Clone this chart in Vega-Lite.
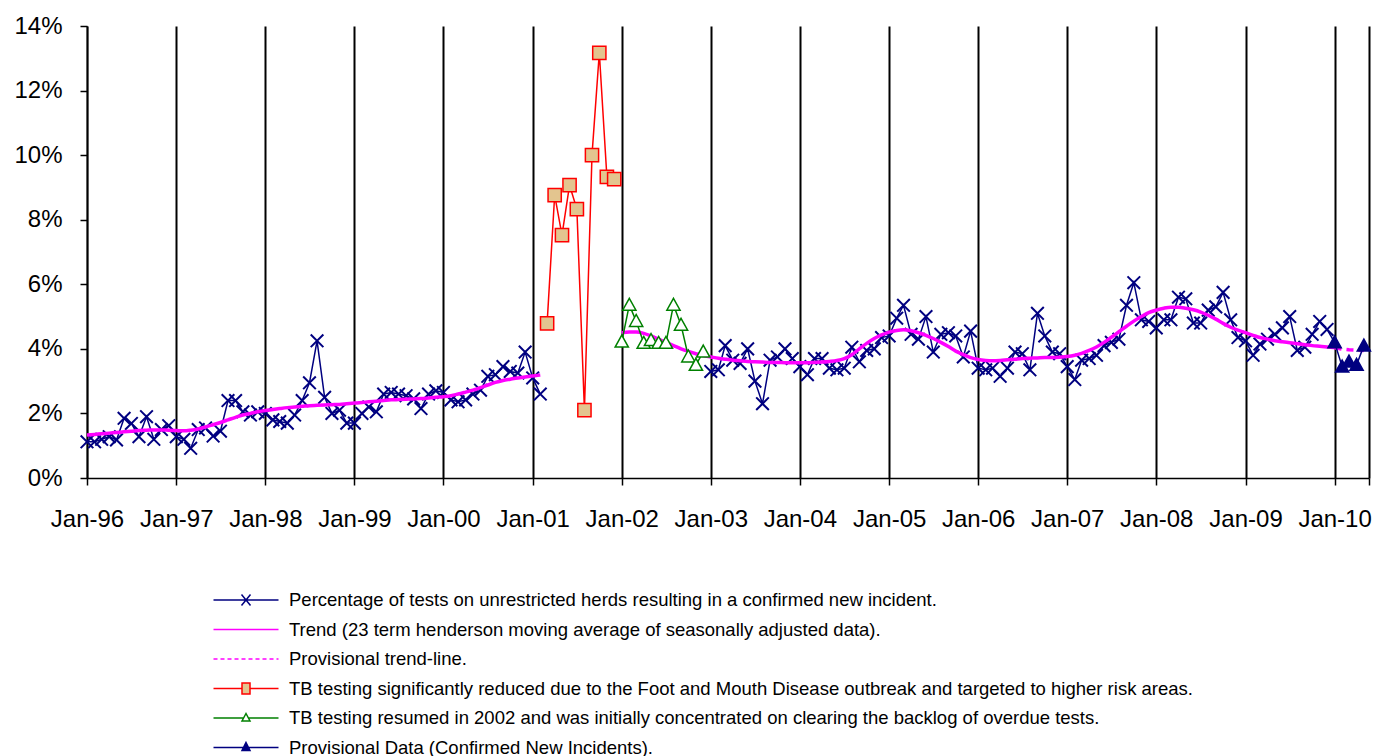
{
"$schema": "https://vega.github.io/schema/vega-lite/v6.json",
"autosize": {"type": "none"},
"width": 1282, "height": 452,
"padding": {"left": 87, "top": 26, "right": 12, "bottom": 278},
"background": "white",
"datasets": {
"main": [
{"d":"1996-01-01","s":"o1","v":1.12},{"d":"1996-02-01","s":"o1","v":1.12},{"d":"1996-03-01","s":"o1","v":1.2},{"d":"1996-04-01","s":"o1","v":1.28},{"d":"1996-05-01","s":"o1","v":1.18},{"d":"1996-06-01","s":"o1","v":1.85},{"d":"1996-07-01","s":"o1","v":1.69},{"d":"1996-08-01","s":"o1","v":1.28},{"d":"1996-09-01","s":"o1","v":1.9},{"d":"1996-10-01","s":"o1","v":1.2},{"d":"1996-11-01","s":"o1","v":1.5},{"d":"1996-12-01","s":"o1","v":1.62},
{"d":"1997-01-01","s":"o1","v":1.28},{"d":"1997-02-01","s":"o1","v":1.2},{"d":"1997-03-01","s":"o1","v":0.92},{"d":"1997-04-01","s":"o1","v":1.5},{"d":"1997-05-01","s":"o1","v":1.55},{"d":"1997-06-01","s":"o1","v":1.3},{"d":"1997-07-01","s":"o1","v":1.45},{"d":"1997-08-01","s":"o1","v":2.4},{"d":"1997-09-01","s":"o1","v":2.4},{"d":"1997-10-01","s":"o1","v":2.05},{"d":"1997-11-01","s":"o1","v":1.95},{"d":"1997-12-01","s":"o1","v":2.05},
{"d":"1998-01-01","s":"o1","v":2.0},{"d":"1998-02-01","s":"o1","v":1.8},{"d":"1998-03-01","s":"o1","v":1.75},{"d":"1998-04-01","s":"o1","v":1.7},{"d":"1998-05-01","s":"o1","v":1.95},{"d":"1998-06-01","s":"o1","v":2.4},{"d":"1998-07-01","s":"o1","v":2.95},{"d":"1998-08-01","s":"o1","v":4.25},{"d":"1998-09-01","s":"o1","v":2.5},{"d":"1998-10-01","s":"o1","v":2.0},{"d":"1998-11-01","s":"o1","v":2.1},{"d":"1998-12-01","s":"o1","v":1.7},
{"d":"1999-01-01","s":"o1","v":1.7},{"d":"1999-02-01","s":"o1","v":2.0},{"d":"1999-03-01","s":"o1","v":2.2},{"d":"1999-04-01","s":"o1","v":2.05},{"d":"1999-05-01","s":"o1","v":2.6},{"d":"1999-06-01","s":"o1","v":2.65},{"d":"1999-07-01","s":"o1","v":2.6},{"d":"1999-08-01","s":"o1","v":2.55},{"d":"1999-09-01","s":"o1","v":2.45},{"d":"1999-10-01","s":"o1","v":2.15},{"d":"1999-11-01","s":"o1","v":2.6},{"d":"1999-12-01","s":"o1","v":2.7},
{"d":"2000-01-01","s":"o1","v":2.65},{"d":"2000-02-01","s":"o1","v":2.42},{"d":"2000-03-01","s":"o1","v":2.36},{"d":"2000-04-01","s":"o1","v":2.42},{"d":"2000-05-01","s":"o1","v":2.6},{"d":"2000-06-01","s":"o1","v":2.72},{"d":"2000-07-01","s":"o1","v":3.15},{"d":"2000-08-01","s":"o1","v":3.2},{"d":"2000-09-01","s":"o1","v":3.45},{"d":"2000-10-01","s":"o1","v":3.3},{"d":"2000-11-01","s":"o1","v":3.25},{"d":"2000-12-01","s":"o1","v":3.9},
{"d":"2001-01-01","s":"o1","v":3.1},{"d":"2001-02-01","s":"o1","v":2.6},
{"d":"2001-03-01","s":"f","v":4.79},{"d":"2001-04-01","s":"f","v":8.76},{"d":"2001-05-01","s":"f","v":7.52},{"d":"2001-06-01","s":"f","v":9.07},{"d":"2001-07-01","s":"f","v":8.33},{"d":"2001-08-01","s":"f","v":2.1},{"d":"2001-09-01","s":"f","v":10.0},{"d":"2001-10-01","s":"f","v":13.17},{"d":"2001-11-01","s":"f","v":9.33},{"d":"2001-12-01","s":"f","v":9.26},
{"d":"2002-01-01","s":"r","v":4.22},{"d":"2002-02-01","s":"r","v":5.36},{"d":"2002-03-01","s":"r","v":4.86},{"d":"2002-04-01","s":"r","v":4.18},{"d":"2002-05-01","s":"r","v":4.27},{"d":"2002-06-01","s":"r","v":4.18},{"d":"2002-07-01","s":"r","v":4.18},{"d":"2002-08-01","s":"r","v":5.36},{"d":"2002-09-01","s":"r","v":4.74},{"d":"2002-10-01","s":"r","v":3.76},{"d":"2002-11-01","s":"r","v":3.5},{"d":"2002-12-01","s":"r","v":3.91},
{"d":"2003-01-01","s":"o2","v":3.3},{"d":"2003-02-01","s":"o2","v":3.35},{"d":"2003-03-01","s":"o2","v":4.1},{"d":"2003-04-01","s":"o2","v":3.65},{"d":"2003-05-01","s":"o2","v":3.55},{"d":"2003-06-01","s":"o2","v":4.0},{"d":"2003-07-01","s":"o2","v":3.0},{"d":"2003-08-01","s":"o2","v":2.3},{"d":"2003-09-01","s":"o2","v":3.65},{"d":"2003-10-01","s":"o2","v":3.75},{"d":"2003-11-01","s":"o2","v":4.0},{"d":"2003-12-01","s":"o2","v":3.7},
{"d":"2004-01-01","s":"o2","v":3.45},{"d":"2004-02-01","s":"o2","v":3.2},{"d":"2004-03-01","s":"o2","v":3.7},{"d":"2004-04-01","s":"o2","v":3.7},{"d":"2004-05-01","s":"o2","v":3.4},{"d":"2004-06-01","s":"o2","v":3.35},{"d":"2004-07-01","s":"o2","v":3.4},{"d":"2004-08-01","s":"o2","v":4.05},{"d":"2004-09-01","s":"o2","v":3.6},{"d":"2004-10-01","s":"o2","v":3.95},{"d":"2004-11-01","s":"o2","v":4.0},{"d":"2004-12-01","s":"o2","v":4.35},
{"d":"2005-01-01","s":"o2","v":4.4},{"d":"2005-02-01","s":"o2","v":4.95},{"d":"2005-03-01","s":"o2","v":5.35},{"d":"2005-04-01","s":"o2","v":4.45},{"d":"2005-05-01","s":"o2","v":4.3},{"d":"2005-06-01","s":"o2","v":5.0},{"d":"2005-07-01","s":"o2","v":3.9},{"d":"2005-08-01","s":"o2","v":4.45},{"d":"2005-09-01","s":"o2","v":4.5},{"d":"2005-10-01","s":"o2","v":4.4},{"d":"2005-11-01","s":"o2","v":3.75},{"d":"2005-12-01","s":"o2","v":4.55},
{"d":"2006-01-01","s":"o2","v":3.4},{"d":"2006-02-01","s":"o2","v":3.35},{"d":"2006-03-01","s":"o2","v":3.4},{"d":"2006-04-01","s":"o2","v":3.15},{"d":"2006-05-01","s":"o2","v":3.4},{"d":"2006-06-01","s":"o2","v":3.9},{"d":"2006-07-01","s":"o2","v":3.85},{"d":"2006-08-01","s":"o2","v":3.35},{"d":"2006-09-01","s":"o2","v":5.1},{"d":"2006-10-01","s":"o2","v":4.4},{"d":"2006-11-01","s":"o2","v":3.9},{"d":"2006-12-01","s":"o2","v":3.85},
{"d":"2007-01-01","s":"o2","v":3.45},{"d":"2007-02-01","s":"o2","v":3.05},{"d":"2007-03-01","s":"o2","v":3.65},{"d":"2007-04-01","s":"o2","v":3.7},{"d":"2007-05-01","s":"o2","v":3.8},{"d":"2007-06-01","s":"o2","v":4.1},{"d":"2007-07-01","s":"o2","v":4.2},{"d":"2007-08-01","s":"o2","v":4.3},{"d":"2007-09-01","s":"o2","v":5.35},{"d":"2007-10-01","s":"o2","v":6.05},{"d":"2007-11-01","s":"o2","v":4.9},{"d":"2007-12-01","s":"o2","v":4.85},
{"d":"2008-01-01","s":"o2","v":4.65},{"d":"2008-02-01","s":"o2","v":4.9},{"d":"2008-03-01","s":"o2","v":4.9},{"d":"2008-04-01","s":"o2","v":5.6},{"d":"2008-05-01","s":"o2","v":5.55},{"d":"2008-06-01","s":"o2","v":4.8},{"d":"2008-07-01","s":"o2","v":4.8},{"d":"2008-08-01","s":"o2","v":5.2},{"d":"2008-09-01","s":"o2","v":5.3},{"d":"2008-10-01","s":"o2","v":5.75},{"d":"2008-11-01","s":"o2","v":4.9},{"d":"2008-12-01","s":"o2","v":4.35},
{"d":"2009-01-01","s":"o2","v":4.25},{"d":"2009-02-01","s":"o2","v":3.8},{"d":"2009-03-01","s":"o2","v":4.15},{"d":"2009-04-01","s":"o2","v":4.3},{"d":"2009-05-01","s":"o2","v":4.45},{"d":"2009-06-01","s":"o2","v":4.65},{"d":"2009-07-01","s":"o2","v":5.0},{"d":"2009-08-01","s":"o2","v":3.95},{"d":"2009-09-01","s":"o2","v":4.05},{"d":"2009-10-01","s":"o2","v":4.45},{"d":"2009-11-01","s":"o2","v":4.85},{"d":"2009-12-01","s":"o2","v":4.6},
{"d":"2009-12-01","s":"lk","v":4.6},{"d":"2010-01-01","s":"lk","v":4.2},
{"d":"2010-01-01","s":"p","v":4.2},{"d":"2010-02-01","s":"p","v":3.45},{"d":"2010-03-01","s":"p","v":3.6},{"d":"2010-04-01","s":"p","v":3.5},{"d":"2010-05-01","s":"p","v":4.1},
{"d":"1996-01-01","s":"t1","v":1.33},{"d":"1996-02-01","s":"t1","v":1.35},{"d":"1996-03-01","s":"t1","v":1.37},{"d":"1996-04-01","s":"t1","v":1.39},{"d":"1996-05-01","s":"t1","v":1.41},{"d":"1996-06-01","s":"t1","v":1.43},{"d":"1996-07-01","s":"t1","v":1.45},{"d":"1996-08-01","s":"t1","v":1.47},{"d":"1996-09-01","s":"t1","v":1.48},{"d":"1996-10-01","s":"t1","v":1.49},{"d":"1996-11-01","s":"t1","v":1.49},{"d":"1996-12-01","s":"t1","v":1.48},
{"d":"1997-01-01","s":"t1","v":1.47},{"d":"1997-02-01","s":"t1","v":1.46},{"d":"1997-03-01","s":"t1","v":1.48},{"d":"1997-04-01","s":"t1","v":1.52},{"d":"1997-05-01","s":"t1","v":1.58},{"d":"1997-06-01","s":"t1","v":1.65},{"d":"1997-07-01","s":"t1","v":1.72},{"d":"1997-08-01","s":"t1","v":1.8},{"d":"1997-09-01","s":"t1","v":1.88},{"d":"1997-10-01","s":"t1","v":1.95},{"d":"1997-11-01","s":"t1","v":2.0},{"d":"1997-12-01","s":"t1","v":2.05},
{"d":"1998-01-01","s":"t1","v":2.09},{"d":"1998-02-01","s":"t1","v":2.12},{"d":"1998-03-01","s":"t1","v":2.15},{"d":"1998-04-01","s":"t1","v":2.18},{"d":"1998-05-01","s":"t1","v":2.2},{"d":"1998-06-01","s":"t1","v":2.22},{"d":"1998-07-01","s":"t1","v":2.24},{"d":"1998-08-01","s":"t1","v":2.25},{"d":"1998-09-01","s":"t1","v":2.26},{"d":"1998-10-01","s":"t1","v":2.27},{"d":"1998-11-01","s":"t1","v":2.28},{"d":"1998-12-01","s":"t1","v":2.3},
{"d":"1999-01-01","s":"t1","v":2.32},{"d":"1999-02-01","s":"t1","v":2.34},{"d":"1999-03-01","s":"t1","v":2.36},{"d":"1999-04-01","s":"t1","v":2.38},{"d":"1999-05-01","s":"t1","v":2.4},{"d":"1999-06-01","s":"t1","v":2.42},{"d":"1999-07-01","s":"t1","v":2.43},{"d":"1999-08-01","s":"t1","v":2.44},{"d":"1999-09-01","s":"t1","v":2.45},{"d":"1999-10-01","s":"t1","v":2.46},{"d":"1999-11-01","s":"t1","v":2.48},{"d":"1999-12-01","s":"t1","v":2.5},
{"d":"2000-01-01","s":"t1","v":2.52},{"d":"2000-02-01","s":"t1","v":2.55},{"d":"2000-03-01","s":"t1","v":2.6},{"d":"2000-04-01","s":"t1","v":2.66},{"d":"2000-05-01","s":"t1","v":2.72},{"d":"2000-06-01","s":"t1","v":2.8},{"d":"2000-07-01","s":"t1","v":2.88},{"d":"2000-08-01","s":"t1","v":2.96},{"d":"2000-09-01","s":"t1","v":3.02},{"d":"2000-10-01","s":"t1","v":3.06},{"d":"2000-11-01","s":"t1","v":3.1},{"d":"2000-12-01","s":"t1","v":3.13},
{"d":"2001-01-01","s":"t1","v":3.16},{"d":"2001-02-01","s":"t1","v":3.19},
{"d":"2002-01-01","s":"t2","v":4.5},{"d":"2002-02-01","s":"t2","v":4.52},{"d":"2002-03-01","s":"t2","v":4.52},{"d":"2002-04-01","s":"t2","v":4.48},{"d":"2002-05-01","s":"t2","v":4.4},{"d":"2002-06-01","s":"t2","v":4.3},{"d":"2002-07-01","s":"t2","v":4.2},{"d":"2002-08-01","s":"t2","v":4.1},{"d":"2002-09-01","s":"t2","v":4.0},{"d":"2002-10-01","s":"t2","v":3.92},{"d":"2002-11-01","s":"t2","v":3.85},{"d":"2002-12-01","s":"t2","v":3.79},
{"d":"2003-01-01","s":"t2","v":3.75},{"d":"2003-02-01","s":"t2","v":3.71},{"d":"2003-03-01","s":"t2","v":3.68},{"d":"2003-04-01","s":"t2","v":3.65},{"d":"2003-05-01","s":"t2","v":3.63},{"d":"2003-06-01","s":"t2","v":3.61},{"d":"2003-07-01","s":"t2","v":3.6},{"d":"2003-08-01","s":"t2","v":3.59},{"d":"2003-09-01","s":"t2","v":3.58},{"d":"2003-10-01","s":"t2","v":3.58},{"d":"2003-11-01","s":"t2","v":3.57},{"d":"2003-12-01","s":"t2","v":3.57},
{"d":"2004-01-01","s":"t2","v":3.57},{"d":"2004-02-01","s":"t2","v":3.57},{"d":"2004-03-01","s":"t2","v":3.58},{"d":"2004-04-01","s":"t2","v":3.59},{"d":"2004-05-01","s":"t2","v":3.61},{"d":"2004-06-01","s":"t2","v":3.64},{"d":"2004-07-01","s":"t2","v":3.7},{"d":"2004-08-01","s":"t2","v":3.82},{"d":"2004-09-01","s":"t2","v":4.0},{"d":"2004-10-01","s":"t2","v":4.17},{"d":"2004-11-01","s":"t2","v":4.32},{"d":"2004-12-01","s":"t2","v":4.43},
{"d":"2005-01-01","s":"t2","v":4.52},{"d":"2005-02-01","s":"t2","v":4.57},{"d":"2005-03-01","s":"t2","v":4.59},{"d":"2005-04-01","s":"t2","v":4.56},{"d":"2005-05-01","s":"t2","v":4.5},{"d":"2005-06-01","s":"t2","v":4.42},{"d":"2005-07-01","s":"t2","v":4.32},{"d":"2005-08-01","s":"t2","v":4.2},{"d":"2005-09-01","s":"t2","v":4.07},{"d":"2005-10-01","s":"t2","v":3.93},{"d":"2005-11-01","s":"t2","v":3.82},{"d":"2005-12-01","s":"t2","v":3.73},
{"d":"2006-01-01","s":"t2","v":3.67},{"d":"2006-02-01","s":"t2","v":3.64},{"d":"2006-03-01","s":"t2","v":3.63},{"d":"2006-04-01","s":"t2","v":3.64},{"d":"2006-05-01","s":"t2","v":3.66},{"d":"2006-06-01","s":"t2","v":3.68},{"d":"2006-07-01","s":"t2","v":3.7},{"d":"2006-08-01","s":"t2","v":3.71},{"d":"2006-09-01","s":"t2","v":3.72},{"d":"2006-10-01","s":"t2","v":3.73},{"d":"2006-11-01","s":"t2","v":3.73},{"d":"2006-12-01","s":"t2","v":3.74},
{"d":"2007-01-01","s":"t2","v":3.76},{"d":"2007-02-01","s":"t2","v":3.8},{"d":"2007-03-01","s":"t2","v":3.86},{"d":"2007-04-01","s":"t2","v":3.95},{"d":"2007-05-01","s":"t2","v":4.06},{"d":"2007-06-01","s":"t2","v":4.2},{"d":"2007-07-01","s":"t2","v":4.36},{"d":"2007-08-01","s":"t2","v":4.53},{"d":"2007-09-01","s":"t2","v":4.7},{"d":"2007-10-01","s":"t2","v":4.86},{"d":"2007-11-01","s":"t2","v":5.0},{"d":"2007-12-01","s":"t2","v":5.12},
{"d":"2008-01-01","s":"t2","v":5.2},{"d":"2008-02-01","s":"t2","v":5.26},{"d":"2008-03-01","s":"t2","v":5.29},{"d":"2008-04-01","s":"t2","v":5.29},{"d":"2008-05-01","s":"t2","v":5.26},{"d":"2008-06-01","s":"t2","v":5.21},{"d":"2008-07-01","s":"t2","v":5.14},{"d":"2008-08-01","s":"t2","v":5.04},{"d":"2008-09-01","s":"t2","v":4.92},{"d":"2008-10-01","s":"t2","v":4.79},{"d":"2008-11-01","s":"t2","v":4.67},{"d":"2008-12-01","s":"t2","v":4.58},
{"d":"2009-01-01","s":"t2","v":4.5},{"d":"2009-02-01","s":"t2","v":4.42},{"d":"2009-03-01","s":"t2","v":4.35},{"d":"2009-04-01","s":"t2","v":4.3},{"d":"2009-05-01","s":"t2","v":4.25},{"d":"2009-06-01","s":"t2","v":4.22},{"d":"2009-07-01","s":"t2","v":4.19},{"d":"2009-08-01","s":"t2","v":4.16},{"d":"2009-09-01","s":"t2","v":4.13},{"d":"2009-10-01","s":"t2","v":4.1},{"d":"2009-11-01","s":"t2","v":4.08},{"d":"2009-12-01","s":"t2","v":4.06},
{"d":"2010-01-01","s":"t2","v":4.04},
{"d":"2010-01-01","s":"pt","v":4.03},{"d":"2010-02-01","s":"pt","v":3.99},{"d":"2010-03-01","s":"pt","v":3.97},{"d":"2010-04-01","s":"pt","v":3.96},{"d":"2010-05-01","s":"pt","v":3.95}
],
"leg": [
{"lab":"Percentage of tests on unrestricted herds resulting in a confirmed new incident."},
{"lab":"Trend (23 term henderson moving average of seasonally adjusted data)."},
{"lab":"Provisional trend-line."},
{"lab":"TB testing significantly reduced due to the Foot and Mouth Disease outbreak and targeted to higher risk areas."},
{"lab":"TB testing resumed in 2002 and was initially concentrated on clearing the backlog of overdue tests."},
{"lab":"Provisional Data (Confirmed New Incidents)."}
]
},
"data": {"name": "main"},
"layer": [
{
"transform": [{"filter": "datum.s == 'o1' || datum.s == 'o2'"}],
"mark": {"type": "line", "color": "#000080", "strokeWidth": 1.5},
"encoding": {
"x": {"field": "d", "type": "temporal", "title": null,
"scale": {"type": "utc", "domain": [{"year":1996,"month":1,"date":1,"utc":true},{"year":2010,"month":5,"date":22,"utc":true}]},
"axis": {"values": [{"year":1996,"month":1,"date":1,"utc":true},{"year":1997,"month":1,"date":1,"utc":true},{"year":1998,"month":1,"date":1,"utc":true},{"year":1999,"month":1,"date":1,"utc":true},{"year":2000,"month":1,"date":1,"utc":true},{"year":2001,"month":1,"date":1,"utc":true},{"year":2002,"month":1,"date":1,"utc":true},{"year":2003,"month":1,"date":1,"utc":true},{"year":2004,"month":1,"date":1,"utc":true},{"year":2005,"month":1,"date":1,"utc":true},{"year":2006,"month":1,"date":1,"utc":true},{"year":2007,"month":1,"date":1,"utc":true},{"year":2008,"month":1,"date":1,"utc":true},{"year":2009,"month":1,"date":1,"utc":true},{"year":2010,"month":1,"date":1,"utc":true},{"year":2010,"month":5,"date":22,"utc":true}],
"labelExpr": "utcdate(datum.value) == 1 ? utcFormat(datum.value, '%b-%y') : ''",
"grid": true, "gridColor": "#000000", "gridWidth": 2, "gridOpacity": 1,
"tickSize": 7, "tickColor": "#000000", "tickWidth": 1.5,
"domainColor": "#000000", "domainWidth": 1.5,
"labelFont": "Liberation Sans", "labelFontSize": 24, "labelColor": "#000000", "labelPadding": 22, "labelFlush": false, "labelOverlap": false}},
"y": {"field": "v", "type": "quantitative", "title": null,
"scale": {"domain": [0, 14], "nice": false, "zero": true},
"axis": {"values": [0,2,4,6,8,10,12,14], "labelExpr": "datum.value + '%'", "grid": false,
"tickSize": 7, "tickColor": "#000000", "tickWidth": 1.5, "domainColor": "#000000", "domainWidth": 1.5,
"labelFont": "Liberation Sans", "labelFontSize": 24, "labelColor": "#000000", "labelPadding": 18}},
"detail": {"field": "s"}
}
},
{
"transform": [{"filter": "datum.s == 'o1' || datum.s == 'o2'"}],
"mark": {"type": "point", "shape": "M-1,-1L1,1M-1,1L1,-1", "size": 160, "stroke": "#000080", "strokeWidth": 2, "filled": false, "opacity": 1},
"encoding": {
"x": {"field": "d", "type": "temporal", "title": null},
"y": {"field": "v", "type": "quantitative", "title": null}
}
},
{
"transform": [{"filter": "datum.s == 't1' || datum.s == 't2'"}],
"mark": {"type": "line", "color": "#FF00FF", "strokeWidth": 3.5, "interpolate": "monotone"},
"encoding": {
"x": {"field": "d", "type": "temporal", "title": null},
"y": {"field": "v", "type": "quantitative", "title": null},
"detail": {"field": "s"}
}
},
{
"transform": [{"filter": "datum.s == 'pt'"}],
"mark": {"type": "line", "color": "#FF00FF", "strokeWidth": 3.5, "strokeDash": [7, 5]},
"encoding": {
"x": {"field": "d", "type": "temporal", "title": null},
"y": {"field": "v", "type": "quantitative", "title": null}
}
},
{
"transform": [{"filter": "datum.s == 'f' || datum.s == 'r' || datum.s == 'lk' || datum.s == 'p'"}],
"mark": {"type": "line", "strokeWidth": 1.5},
"encoding": {
"x": {"field": "d", "type": "temporal", "title": null},
"y": {"field": "v", "type": "quantitative", "title": null},
"stroke": {"field": "s", "type": "nominal", "legend": null,
"scale": {"domain": ["f","r","lk","p"], "range": ["#FF0000","#008000","#000080","#000080"]}}
}
},
{
"transform": [{"filter": "datum.s == 'f' || datum.s == 'r' || datum.s == 'p'"}],
"mark": {"type": "point", "size": 175, "strokeWidth": 1.5, "opacity": 1},
"encoding": {
"x": {"field": "d", "type": "temporal", "title": null},
"y": {"field": "v", "type": "quantitative", "title": null},
"shape": {"field": "s", "type": "nominal", "legend": null,
"scale": {"domain": ["f","r","p"], "range": ["square", "M0,-1L1,0.8L-1,0.8Z", "M0,-1L1,0.8L-1,0.8Z"]}},
"fill": {"field": "s", "type": "nominal", "legend": null,
"scale": {"domain": ["f","r","p"], "range": ["#E3C58F","#FFFFFF","#000080"]}},
"stroke": {"field": "s", "type": "nominal", "legend": null,
"scale": {"domain": ["f","r","p"], "range": ["#FF0000","#008000","#000080"]}}
}
},
{
"data": {"name": "leg"},
"mark": {"type": "point", "opacity": 0},
"encoding": {
"shape": {"field": "lab", "type": "nominal",
"scale": {"domain": ["Percentage of tests on unrestricted herds resulting in a confirmed new incident.","Trend (23 term henderson moving average of seasonally adjusted data).","Provisional trend-line.","TB testing significantly reduced due to the Foot and Mouth Disease outbreak and targeted to higher risk areas.","TB testing resumed in 2002 and was initially concentrated on clearing the backlog of overdue tests.","Provisional Data (Confirmed New Incidents)."],
"range": ["M-3.25,0H3.25M-0.45,-0.55L0.45,0.55M-0.45,0.55L0.45,-0.55","M-3.25,0H3.25","M-3.25,0H-2.85M-2.55,0H-2.15M-1.85,0H-1.45M-1.15,0H-0.75M-0.45,0H-0.05M0.25,0H0.65M0.95,0H1.35M1.65,0H2.05M2.35,0H2.75M3.05,0H3.25","M-3.25,0H-0.4M0.4,0H3.25M-0.4,-0.55H0.4V0.55H-0.4Z","M-3.25,0H-0.24M0.24,0H3.25M0,-0.45L0.4,0.3H-0.4Z","M-3.25,0H3.25M0,-0.5L0.4,0.3H-0.4Z"]},
"legend": {"title": null, "orient": "none", "legendX": 148, "legendY": 563, "padding": 0, "symbolSize": 400, "symbolStrokeWidth": 1.5, "symbolOpacity": 1, "labelOffset": 32, "rowPadding": 8.5, "labelFont": "Liberation Sans", "labelFontSize": 18.5, "labelColor": "#000000", "labelLimit": 2000,
"encode": {"symbols": {"update": {"opacity": {"value": 1}}}}}},
"stroke": {"field": "lab", "type": "nominal",
"scale": {"domain": ["Percentage of tests on unrestricted herds resulting in a confirmed new incident.","Trend (23 term henderson moving average of seasonally adjusted data).","Provisional trend-line.","TB testing significantly reduced due to the Foot and Mouth Disease outbreak and targeted to higher risk areas.","TB testing resumed in 2002 and was initially concentrated on clearing the backlog of overdue tests.","Provisional Data (Confirmed New Incidents)."],
"range": ["#000080","#FF00FF","#FF00FF","#FF0000","#008000","#000080"]}},
"fill": {"field": "lab", "type": "nominal",
"scale": {"domain": ["Percentage of tests on unrestricted herds resulting in a confirmed new incident.","Trend (23 term henderson moving average of seasonally adjusted data).","Provisional trend-line.","TB testing significantly reduced due to the Foot and Mouth Disease outbreak and targeted to higher risk areas.","TB testing resumed in 2002 and was initially concentrated on clearing the backlog of overdue tests.","Provisional Data (Confirmed New Incidents)."],
"range": ["transparent","transparent","transparent","#E3C58F","#FFFFFF","#000080"]}}
}
}
],
"resolve": {"scale": {"shape": "independent", "fill": "independent", "stroke": "independent"}, "legend": {"shape": "independent", "fill": "independent", "stroke": "independent"}},
"config": {"view": {"stroke": null}, "axis": {"ticks": true}}
}
